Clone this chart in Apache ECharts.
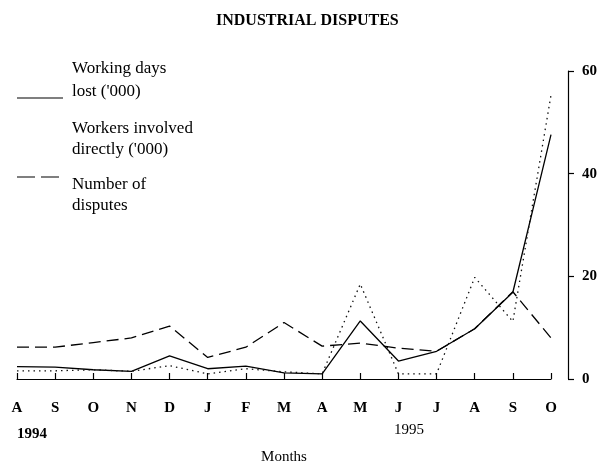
<!DOCTYPE html>
<html>
<head>
<meta charset="utf-8">
<script src="https://cdn.jsdelivr.net/npm/echarts@6/dist/echarts.min.js"></script>
<style>
  html, body { margin: 0; padding: 0; background: #fff; }
  #chart { width: 605px; height: 470px; }
</style>
</head>
<body>
<div id="chart"></div>
<script>
// month initials, Aug 1994 .. Oct 1995
const months = ['A', 'S', 'O', 'N', 'D', 'J', 'F', 'M', 'A', 'M', 'J', 'J', 'A', 'S', 'O']
const yTicks = [0, 20, 40, 60]

// values
const workingDaysLost = [2.4, 2.3, 1.8, 1.5, 4.5, 2.0, 2.5, 1.2, 1.0, 11.3, 3.5, 5.4, 9.8, 16.9, 47.6]
const workersInvolved = [1.6, 1.6, 1.8, 1.5, 2.6, 1.0, 2.0, 1.4, 1.0, 18.5, 1.0, 1.0, 19.8, 11.2, 55.3]
const numberOfDisputes = [6.2, 6.2, 7.1, 8.0, 10.3, 4.2, 6.2, 11.0, 6.4, 7.0, 6.0, 5.4, 9.8, 17.0, 8.0]

const serif = 'Liberation Serif'

const chart = echarts.init(document.getElementById('chart'))

const option = {
    backgroundColor: '#fff',
    animation: false,
    title: {
        text: 'INDUSTRIAL DISPUTES',
        left: 211,
        top: 8,
        textStyle: { fontFamily: serif, fontSize: 16, fontWeight: 'bold', color: '#000' }
    },
    grid: {
        left: 17,
        right: 54,
        top: 71,
        bottom: 85
    },
    xAxis: {
        type: 'category',
        data: months,
        boundaryGap: false,
        offset: 8,
        name: 'Months',
        nameLocation: 'middle',
        nameGap: 63,
        nameTextStyle: { fontFamily: serif, fontSize: 15, color: '#000' },
        axisLine: { lineStyle: { color: '#000', width: 1.2 } },
        axisTick: { inside: true, length: 6, lineStyle: { color: '#000', width: 1.2 } },
        axisLabel: {
            margin: 14,
            fontFamily: serif,
            fontSize: 15,
            fontWeight: 'bold',
            color: '#000'
        },
        splitLine: { show: false }
    },
    yAxis: {
        type: 'value',
        position: 'right',
        offset: 17,
        min: 0,
        max: yTicks[yTicks.length - 1],
        interval: 20,
        axisLine: { show: true, lineStyle: { color: '#000', width: 1.2 } },
        axisTick: { show: true, length: 6, lineStyle: { color: '#000', width: 1.2 } },
        axisLabel: {
            margin: 14,
            fontFamily: serif,
            fontSize: 15,
            fontWeight: 'bold',
            color: '#000'
        },
        splitLine: { show: false }
    },
    series: [
        {
            name: "Working days lost ('000)",
            type: 'line',
            data: workingDaysLost,
            symbol: 'none',
            lineStyle: { color: '#000', width: 1.3, type: 'solid' }
        },
        {
            name: "Workers involved directly ('000)",
            type: 'line',
            data: workersInvolved,
            symbol: 'none',
            lineStyle: { color: '#111', width: 1.3, type: [1.5, 4] }
        },
        {
            name: 'Number of disputes',
            type: 'line',
            data: numberOfDisputes,
            symbol: 'none',
            lineStyle: { color: '#000', width: 1.3, type: [12, 6] }
        }
    ],
    graphic: [
        // legend
        { type: 'line', shape: { x1: 17, y1: 98, x2: 63, y2: 98 }, style: { stroke: '#000', lineWidth: 1.2 } },
        { type: 'text', left: 72, top: 57, style: { text: "Working days\nlost ('000)", font: '17px "Liberation Serif"', lineHeight: 23, fill: '#000' } },
        { type: 'text', left: 72, top: 118, style: { text: "Workers involved\ndirectly ('000)", font: '17px "Liberation Serif"', lineHeight: 21, fill: '#000' } },
        { type: 'line', shape: { x1: 17, y1: 177, x2: 63, y2: 177 }, style: { stroke: '#000', lineWidth: 1.2, lineDash: [18, 6] } },
        { type: 'text', left: 72, top: 174, style: { text: 'Number of\ndisputes', font: '17px "Liberation Serif"', lineHeight: 21, fill: '#000' } },
        // years under the month axis
        { type: 'text', left: 17, top: 427, style: { text: '1994', font: 'bold 15px "Liberation Serif"', fill: '#000' } },
        { type: 'text', left: 394, top: 423, style: { text: '1995', font: '15px "Liberation Serif"', fill: '#000' } }
    ]
}

chart.setOption(option)
</script>
</body>
</html>
